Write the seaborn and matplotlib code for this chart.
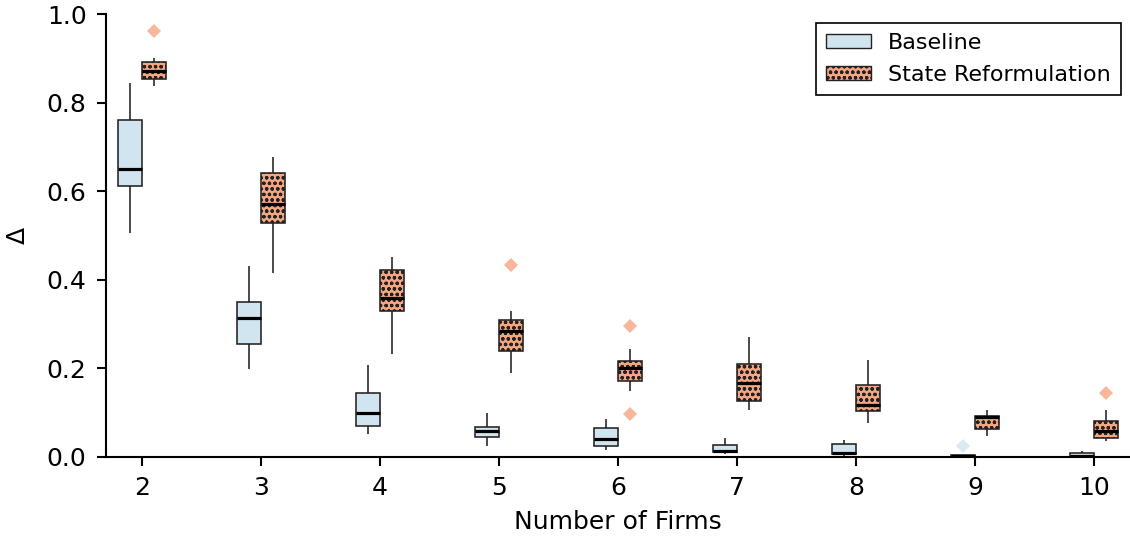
import numpy as np
import pandas as pd
import matplotlib
matplotlib.use('Agg')
import matplotlib.pyplot as plt
import seaborn as sns
from matplotlib.patches import Patch

# ---- data ----
firms = [2, 3, 4, 5, 6, 7, 8, 9, 10]
methods = ['Baseline', 'State Reformulation']
colors = ['#d1e5f0', '#f4a582']

baseline_samples = [
    [0.505, 0.580, 0.612, 0.630, 0.650, 0.700, 0.761, 0.800, 0.844],
    [0.198, 0.230, 0.254, 0.290, 0.313, 0.330, 0.351, 0.390, 0.431],
    [0.051, 0.060, 0.071, 0.085, 0.100, 0.120, 0.144, 0.180, 0.208],
    [0.025, 0.038, 0.046, 0.053, 0.059, 0.064, 0.068, 0.085, 0.099],
    [0.016, 0.020, 0.024, 0.032, 0.040, 0.052, 0.066, 0.076, 0.086],
    [0.007, 0.009, 0.011, 0.012, 0.0135, 0.020, 0.026, 0.035, 0.043],
    [0.003, 0.005, 0.007, 0.008, 0.009, 0.018, 0.029, 0.034, 0.038],
    [0.000, 0.000, 0.000, 0.001, 0.003, 0.0035, 0.004, 0.005, 0.025],
    [0.000, 0.000, 0.001, 0.002, 0.003, 0.006, 0.010, 0.012, 0.013],
]
reform_samples = [
    [0.837, 0.845, 0.854, 0.862, 0.871, 0.880, 0.892, 0.900, 0.962],
    [0.415, 0.480, 0.528, 0.550, 0.571, 0.600, 0.640, 0.660, 0.678],
    [0.232, 0.290, 0.330, 0.345, 0.359, 0.390, 0.422, 0.440, 0.451],
    [0.189, 0.215, 0.239, 0.262, 0.284, 0.298, 0.310, 0.330, 0.433],
    [0.098, 0.148, 0.171, 0.188, 0.201, 0.210, 0.217, 0.244, 0.295],
    [0.107, 0.118, 0.127, 0.148, 0.167, 0.190, 0.210, 0.240, 0.270],
    [0.076, 0.090, 0.103, 0.110, 0.117, 0.140, 0.162, 0.190, 0.220],
    [0.047, 0.055, 0.063, 0.078, 0.090, 0.091, 0.093, 0.099, 0.105],
    [0.035, 0.040, 0.044, 0.052, 0.059, 0.070, 0.082, 0.105, 0.144],
]

rows = []
for k, b, r in zip(firms, baseline_samples, reform_samples):
    for v in b:
        rows.append((k, methods[0], v))
    for v in r:
        rows.append((k, methods[1], v))
df = pd.DataFrame(rows, columns=['firms', 'method', 'delta'])

sns.set_theme(style='ticks')
plt.rcParams['font.family'] = ['DejaVu Sans']
plt.rcParams['hatch.linewidth'] = 0.9
for key in ['text.color', 'axes.labelcolor', 'xtick.color', 'ytick.color',
            'axes.edgecolor']:
    plt.rcParams[key] = 'black'

fig = plt.figure(figsize=(11.3, 5.39), dpi=100)
W, H = 1130, 539
ax = fig.add_axes([106 / W, 1 - 457 / H, 1 - 106 / W, (457 - 14) / H])

edge = '#222222'
sns.boxplot(data=df, x='firms', y='delta', hue='method', hue_order=methods,
            palette=colors, saturation=1, width=0.4, gap=0, linewidth=1.15,
            linecolor=edge, showcaps=False, fliersize=7,
            flierprops=dict(marker='D', markeredgewidth=0),
            medianprops=dict(color='black', linewidth=2.3),
            legend=False, ax=ax)

# colour fliers like their box, hatch the reformulation boxes
for line in ax.lines:
    if line.get_marker() == 'D':
        xd = np.asarray(line.get_xdata(), dtype=float)
        if len(xd) == 0:
            continue
        c = colors[0] if xd[0] - np.round(xd[0]) < 0 else colors[1]
        line.set_markerfacecolor(c)
        line.set_markeredgecolor(c)
        line.set_alpha(0.8)
for p in ax.patches:
    ext = p.get_path().get_extents()
    cx = (ext.x0 + ext.x1) / 2
    if cx - np.round(cx) > 0:
        p.set_hatch('ooo')

ax.set_xlim(-0.30, 8.30)
ax.set_ylim(0, 1.0)
ax.set_yticks([0.0, 0.2, 0.4, 0.6, 0.8, 1.0])
ax.set_xlabel('Number of Firms', fontsize=18, labelpad=7)
ax.set_ylabel('Δ', fontsize=18, labelpad=12)
ax.tick_params(labelsize=18, length=6.5, width=1.5, pad=7.5, color='black',
               labelcolor='black')
for s in ['top', 'right']:
    ax.spines[s].set_visible(False)
for s in ['left', 'bottom']:
    ax.spines[s].set_linewidth(1.5)
    ax.spines[s].set_color('black')

handles = [Patch(facecolor=colors[0], edgecolor=edge, label=methods[0]),
           Patch(facecolor=colors[1], edgecolor=edge, hatch='ooo', label=methods[1])]
leg = ax.legend(handles=handles, loc='upper right', fontsize=16, frameon=True,
                fancybox=False, edgecolor='black', framealpha=1,
                handlelength=2.0, handleheight=0.6, labelspacing=0.55,
                borderpad=0.45, borderaxespad=0.4)
leg.get_frame().set_linewidth(1.2)

fig.savefig('out.png', dpi=100)
